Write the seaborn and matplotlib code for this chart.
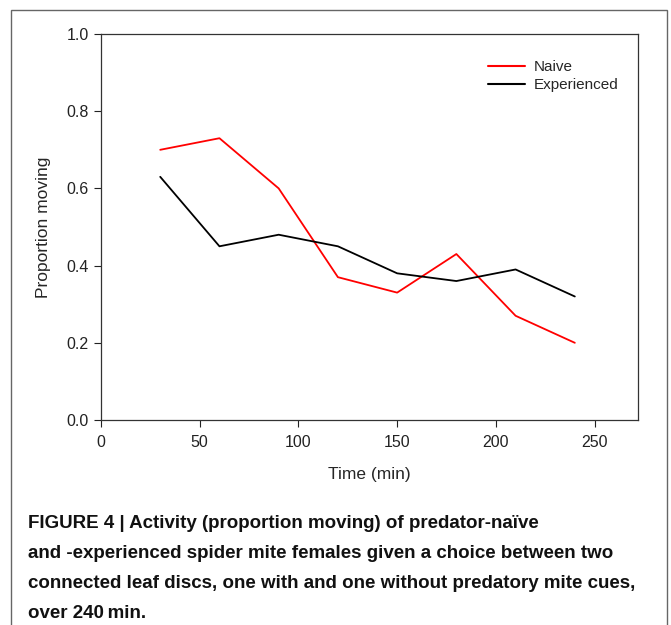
import matplotlib

matplotlib.use("Agg")
import matplotlib.pyplot as plt
import pandas as pd
import seaborn as sns
from matplotlib.patches import Rectangle

TIME_MIN = [30, 60, 90, 120, 150, 180, 210, 240]
NAIVE = [0.70, 0.73, 0.60, 0.37, 0.33, 0.43, 0.27, 0.20]
EXPERIENCED = [0.63, 0.45, 0.48, 0.45, 0.38, 0.36, 0.39, 0.32]
GROUPS = ["Naive", "Experienced"]
X_TICKS = [0, 50, 100, 150, 200, 250]
Y_TICKS = [0.0, 0.2, 0.4, 0.6, 0.8, 1.0]
CAPTION = [
    "FIGURE 4 | Activity (proportion moving) of predator-naïve",
    "and -experienced spider mite females given a choice between two",
    "connected leaf discs, one with and one without predatory mite cues,",
    "over 240\u2009min.",
]

df = pd.DataFrame(
    {
        "time": TIME_MIN * 2,
        "proportion": NAIVE + EXPERIENCED,
        "group": [GROUPS[0]] * len(TIME_MIN) + [GROUPS[1]] * len(TIME_MIN),
    }
)

sns.set_theme(style="ticks")
plt.rcParams["font.family"] = ["Liberation Sans", "DejaVu Sans"]

W, H = 671, 625
fig = plt.figure(figsize=(W / 100, H / 100), dpi=100)
ax = fig.add_axes([101 / W, 1 - 420 / H, (638 - 101) / W, (420 - 34) / H])

sns.lineplot(
    data=df,
    x="time",
    y="proportion",
    hue="group",
    palette={"Naive": "#ff0000", "Experienced": "#000000"},
    linewidth=1.3,
    ax=ax,
)

ax.set_xlim(0, 272)
ax.set_ylim(0, 1.0)
ax.set_xticks(X_TICKS)
ax.set_yticks(Y_TICKS)
ax.set_yticklabels([f"{v:.1f}" for v in Y_TICKS])
ax.tick_params(direction="out", length=5, width=0.8, labelsize=11.5, colors="#222222", pad=4)
ax.tick_params(axis="x", pad=6)
for side in ["top", "right", "left", "bottom"]:
    ax.spines[side].set_visible(True)
    ax.spines[side].set_linewidth(0.9)
    ax.spines[side].set_color("#333333")
ax.set_xlabel("Time (min)", fontsize=12.5, labelpad=12)
ax.set_ylabel("Proportion moving", fontsize=12.5, labelpad=11)

leg = ax.legend(
    loc="upper right",
    bbox_to_anchor=(0.99, 0.968),
    frameon=False,
    fontsize=11,
    handlelength=2.4,
    handletextpad=0.6,
    labelspacing=0.28,
)
for line in leg.get_lines():
    line.set_linewidth(1.5)

# frame around the figure panel
fig.patches.append(
    Rectangle(
        (11 / W, -0.01),
        (667 - 11) / W,
        1 - 10 / H + 0.01,
        transform=fig.transFigure,
        fill=False,
        edgecolor="#666666",
        linewidth=1.0,
    )
)

cap_family = ["Liberation Sans Narrow", "Liberation Sans", "DejaVu Sans"]
for i, line in enumerate(CAPTION):
    fig.text(
        28 / W,
        1 - (523 + 30 * i) / H,
        line,
        fontsize=13.5,
        fontweight="bold",
        family=cap_family,
        va="center",
        ha="left",
        color="#111111",
    )

fig.savefig("out.png", dpi=100)
